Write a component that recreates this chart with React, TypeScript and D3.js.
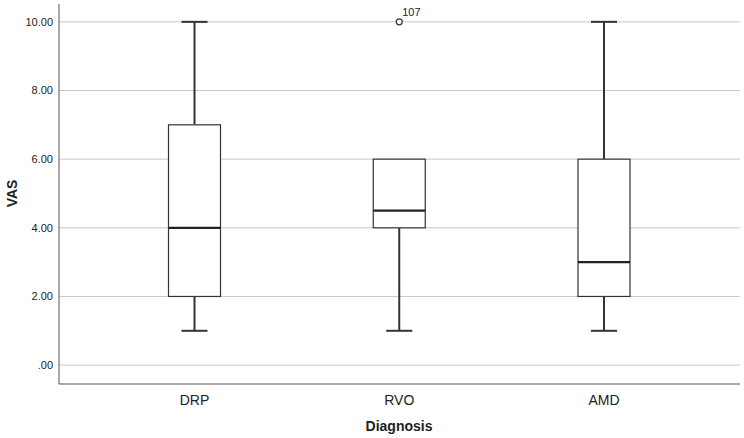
import React from "react";
import * as d3 from "d3";

const categories = ["DRP", "RVO", "AMD"];
const mins = [1, 1, 1];
const q1s = [2, 4, 2];
const medians = [4, 4.5, 3];
const q3s = [7, 6, 6];
const maxs = [10, 6, 10];
const outliers = [{ cat: "RVO", value: 10, label: "107" }];
const yTicks = [0, 2, 4, 6, 8, 10];

const W = 744, H = 438;

export default function App() {
  const x = d3.scalePoint<string>().domain(categories).range([194.5, 604]);
  const y = d3.scaleLinear().domain([-0.55, 10.52]).range([384, 4]);
  const boxW = 52, capW = 26;
  const fmt = (v: number) => (v === 0 ? ".00" : v.toFixed(2));
  return (
    <svg width={W} height={H} style={{ position: "absolute", left: 0, top: 0, background: "#fff" }}>
      <g fontFamily="Arial, 'Liberation Sans', sans-serif">
        {yTicks.map((t) => (
          <g key={t}>
            <line x1={59} x2={740} y1={y(t)} y2={y(t)} stroke="#c8c8c8" strokeWidth={1} />
            <text x={53} y={y(t)} dy="0.35em" textAnchor="end" fontSize={11} fill="#222">{fmt(t)}</text>
          </g>
        ))}
        <line x1={59} x2={59} y1={4} y2={384} stroke="#555" strokeWidth={1} />
        <line x1={59} x2={740} y1={384} y2={384} stroke="#555" strokeWidth={1} />
        {categories.map((c, i) => {
          const cx = x(c)!;
          return (
            <g key={c}>
              {maxs[i] > q3s[i] && (
                <>
                  <line x1={cx} x2={cx} y1={y(q3s[i])} y2={y(maxs[i])} stroke="#333" strokeWidth={2} />
                  <line x1={cx - capW / 2} x2={cx + capW / 2} y1={y(maxs[i])} y2={y(maxs[i])} stroke="#333" strokeWidth={2} />
                </>
              )}
              {mins[i] < q1s[i] && (
                <>
                  <line x1={cx} x2={cx} y1={y(q1s[i])} y2={y(mins[i])} stroke="#333" strokeWidth={2} />
                  <line x1={cx - capW / 2} x2={cx + capW / 2} y1={y(mins[i])} y2={y(mins[i])} stroke="#333" strokeWidth={2} />
                </>
              )}
              <rect x={cx - boxW / 2} y={y(q3s[i])} width={boxW} height={y(q1s[i]) - y(q3s[i])} fill="#fff" stroke="#333" strokeWidth={1.2} />
              <line x1={cx - boxW / 2} x2={cx + boxW / 2} y1={y(medians[i])} y2={y(medians[i])} stroke="#222" strokeWidth={2.2} />
              <text x={cx} y={400} dy="0.35em" textAnchor="middle" fontSize={14} fill="#222">{c}</text>
            </g>
          );
        })}
        {outliers.map((o) => (
          <g key={o.label}>
            <circle cx={x(o.cat)!} cy={y(o.value)} r={3} fill="#fff" stroke="#333" strokeWidth={1.2} />
            <text x={x(o.cat)! + 3} y={y(o.value) - 6} textAnchor="start" fontSize={11} fill="#222">{o.label}</text>
          </g>
        ))}
        <text x={399} y={426} dy="0.35em" textAnchor="middle" fontSize={14} fontWeight="bold" fill="#222">Diagnosis</text>
        <text transform={`translate(12,${y(5)}) rotate(-90)`} dy="0.35em" textAnchor="middle" fontSize={14} fontWeight="bold" fill="#222">VAS</text>
      </g>
    </svg>
  );
}
